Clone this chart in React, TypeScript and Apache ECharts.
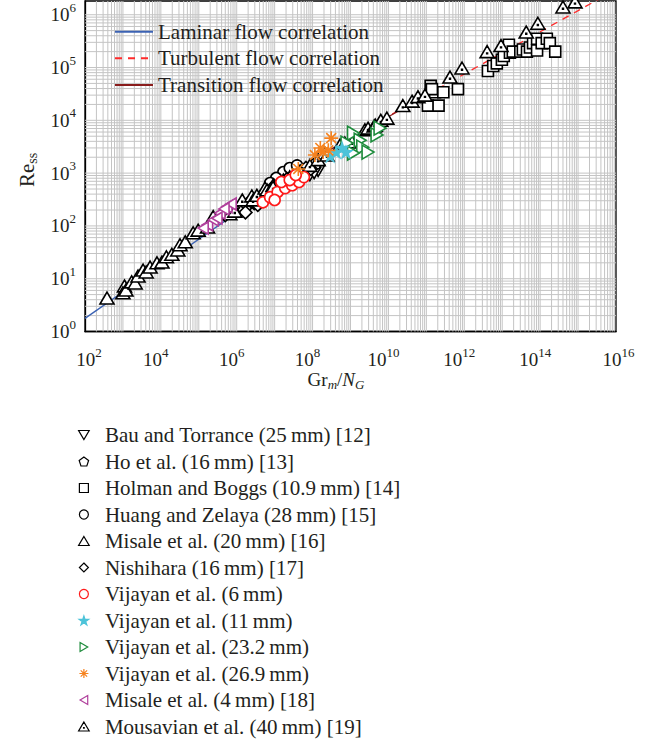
import React, { useEffect, useRef } from 'react';
import * as echarts from 'echarts';

const SERIF = "'Liberation Serif', serif";
const INK = '#231f20';

// Axis extents
const X_RANGE = [1e2, 1e16];
const Y_RANGE = [1, 1.82e6];

// Correlation lines (end points, Gr_m/N_G vs Re_ss)
const laminarFlow = [[1e2, 1.77], [1e8, 1.77e3]];
const turbulentFlow = [[2e8, 2.5e3], [1e16, 3.0e6]];
const transitionFlow = [[1e8, 1.8e3], [2e10, 1.55e4]];

// Experimental data [Gr_m/N_G, Re_ss]
const bauTorrance = [
  [1.4e7, 4.8e2], [3.5e7, 6.5e2], [8.5e7, 9.2e2], [1.4e8, 1.1e3], [5.9e6, 3.4e2], [2.2e6, 2.5e2],
  [9.0e6, 4.0e2], [2.2e7, 5.6e2], [5.5e7, 8.0e2], [1.1e8, 1.0e3], [4.0e6, 2.9e2],
];
const hoEtAl = [
  [6.3e7, 1.15e3], [9.6e7, 1.4e3], [3.0e7, 1.05e3], [1.9e7, 8.8e2], [1.2e8, 1.55e3],
];
const holmanBoggs = [
  [4.2e12, 8.6e4], [5.8e12, 1.07e5], [7.2e12, 1.2e5], [9.8e12, 1.4e5], [1.1e13, 1.65e5],
  [1.6e13, 1.9e5], [1.5e13, 2.7e5], [1.9e13, 2.0e5], [3.0e13, 2.0e5], [3.5e13, 2.2e5],
  [4.5e13, 2.0e5], [5.4e13, 2.4e5], [6.5e13, 2.9e5], [8.3e13, 3.5e5], [8.3e13, 2.1e5],
  [1.1e14, 2.9e5], [1.5e14, 3.5e5], [1.8e14, 2.9e5], [2.5e14, 2.0e5],
  [1.3e11, 4.5e4], [1.7e11, 3.4e4], [2.8e11, 3.4e4], [6.8e11, 3.9e4], [1.1e11, 1.9e4],
  [2.1e11, 1.9e4], [1.4e11, 3.9e4],
];
const huangZelaya = [
  [1.7e7, 1.05e3], [2.5e7, 1.25e3], [3.9e7, 1.4e3], [1.1e7, 8.1e2], [7.6e6, 6.5e2],
];
const misale20 = [
  [3.8e2, 4.3], [1.1e3, 7.3], [1.0e3, 5.4], [1.2e3, 6.1], [1.7e3, 8.7], [2.1e3, 8.3],
  [2.5e3, 11.2], [3.4e3, 14.6], [4.1e3, 13.4], [5.2e3, 16.6], [7.9e3, 20], [1.07e4, 20.7],
  [1.4e4, 26], [1.95e4, 29], [2.8e4, 35], [3.2e4, 44], [4.4e4, 50], [7.1e4, 74],
  [9.6e4, 83], [1.7e5, 95],
];
const nishihara = [
  [1.2e6, 2.0e2], [1.9e6, 2.4e2], [2.9e6, 2.7e2], [4.1e6, 3.5e2], [6.6e6, 4.2e2],
  [1.1e7, 5.2e2], [1.7e7, 5.5e2], [4.7e7, 1.05e3], [6.7e7, 1.25e3], [3.5e7, 8.8e2],
  [2.1e7, 7.7e2], [1.7e6, 1.8e2], [3.6e6, 2.5e2], [5.0e5, 1.6e2], [8.0e5, 2.2e2],
  [2.3e6, 3.0e2], [5.0e6, 3.0e2], [8.0e6, 5.0e2], [1.3e7, 6.2e2], [2.8e7, 7.0e2],
  [5.5e7, 9.5e2], [9.0e7, 1.2e3],
];
const vijayan6 = [
  [4.9e6, 2.8e2], [7.6e6, 3.5e2], [1.2e7, 4.4e2], [1.9e7, 5.2e2], [2.9e7, 5.9e2],
  [4.4e7, 6.8e2], [5.9e7, 8.4e2], [1.5e7, 6.8e2], [2.5e7, 7.4e2], [3.6e7, 9.2e2], [1.0e7, 3.1e2],
];
const vijayan11 = [
  [4.2e8, 2.5e3], [6.0e8, 3.0e3], [7.6e8, 2.5e3], [2.9e8, 2.1e3],
];
const vijayan23 = [
  [1.2e9, 5.7e3], [1.8e9, 4.2e3], [2.1e9, 3.1e3], [1.2e9, 2.4e3], [2.9e9, 2.5e3],
  [5.0e9, 5.3e3], [6.0e9, 7.1e3], [8.1e8, 3.7e3],
];
const vijayan27 = [
  [4.2e7, 1.2e3], [1.15e8, 2.2e3], [1.9e8, 2.5e3], [2.6e8, 2.7e3], [3.1e8, 4.6e3], [1.6e8, 3.0e3],
];
const misale4 = [
  [1.7e5, 1.05e2], [2.4e5, 1.3e2], [3.6e5, 1.75e2], [5.5e5, 2.3e2], [7.1e5, 2.6e2],
  [3.0e5, 1.4e2], [1.3e5, 91], [4.6e5, 2.1e2],
];
const mousavian = [
  [2.4e5, 1.5e2], [4.4e5, 1.8e2], [6.6e5, 1.7e2], [7.9e5, 2.3e2], [8.9e5, 1.9e2],
  [1.4e6, 3.1e2], [2.5e6, 3.7e2], [2.7e6, 3.1e2], [3.4e6, 3.8e2], [5.6e6, 5.2e2],
  [6.3e6, 4.8e2], [9.1e6, 5.9e2], [9.1e6, 5.4e2], [1.7e7, 7.4e2], [2.5e7, 8.5e2],
  [4.7e7, 1.1e3], [8.5e7, 1.4e3], [1.4e8, 1.8e3], [2.1e8, 2.4e3], [2.4e8, 2.2e3],
  [5.3e8, 3.4e3], [7.1e8, 3.7e3], [1.1e9, 3.9e3], [2.4e9, 6.6e3], [2.9e9, 7.1e3],
  [4.2e9, 7.8e3], [4.5e9, 8.1e3], [6.3e9, 1.0e4], [9.1e9, 1.1e4], [2.4e10, 1.9e4],
  [4.2e10, 2.3e4], [6.0e10, 2.8e4], [9.2e10, 3.0e4], [4.2e11, 6.6e4], [8.7e11, 9.8e4],
  [4.0e12, 2.0e5], [9.3e12, 2.6e5], [4.3e13, 4.7e5], [8.7e13, 6.9e5], [4.0e14, 1.4e6],
  [8.3e14, 1.75e6],
];

// Marker outlines
const TRI_UP = 'path://M10,0L20,17L0,17Z';
const TRI_UP_DOT = 'path://M10,0L20,17L0,17Z M9.4,10.4L10.6,10.4L10.6,11.6L9.4,11.6Z';
const TRI_DOWN = 'path://M0,0L20,0L10,17Z';
const TRI_RIGHT = 'path://M0,0L17,10L0,20Z';
const TRI_LEFT = 'path://M17,0L0,10L17,20Z';
const SQUARE = 'path://M0,0L10,0L10,10L0,10Z';
const DIAMOND = 'path://M10,0L20,10L10,20L0,10Z';
const PENTAGON = 'path://M10,0L19.5,6.9L15.9,18.1L4.1,18.1L0.5,6.9Z';
const STAR = 'path://M10,0L12.4,7.2L20,7.2L13.8,11.7L16.2,19L10,14.5L3.8,19L6.2,11.7L0,7.2L7.6,7.2Z';
const ASTERISK = 'path://M10,0L10,20M0,10L20,10M2.9,2.9L17.1,17.1M17.1,2.9L2.9,17.1';

function scatter(name: string, data: number[][], symbol: string, size: number | number[], fill: string, stroke: string) {
  return {
    type: 'scatter',
    name,
    data,
    symbol,
    symbolSize: size,
    symbolKeepAspect: true,
    z: 3,
    silent: true,
    itemStyle: { color: fill, borderColor: stroke, borderWidth: 1.6, opacity: 1 },
  };
}

function line(name: string, data: number[][], color: string, type: any) {
  return {
    type: 'line',
    name,
    data,
    z: 2,
    silent: true,
    symbol: 'none',
    showSymbol: false,
    color,
    lineStyle: { color, width: 1.3, type },
  };
}

const tickRich = {
  b: { fontSize: 19, lineHeight: 28, fontFamily: SERIF, color: INK },
  s: { fontSize: 13, lineHeight: 10, verticalAlign: 'top', fontFamily: SERIF, color: INK },
  pl: { width: 8 },
  pm: { width: 5 },
  pr: { width: 10 },
};

function decade(v: number): number | null {
  const l = Math.log10(v);
  const e = Math.round(l);
  return Math.abs(l - e) < 1e-6 ? e : null;
}

function xLabel(v: number) {
  const e = decade(v);
  if (e === null || e % 2 !== 0) return '';
  const pre = e === 2 ? '{pl| }' : e === 16 ? '{pm| }' : '';
  const post = e === 2 || e === 16 ? '' : '{pr| }';
  return `${pre}{b|10}{s|${e}}${post}`;
}

function yLabel(v: number) {
  const e = decade(v);
  if (e === null) return '';
  return `{b|10}{s|${e}}`;
}

// Log-decade grid lines (1..9 in every decade)
function renderGrid(_params: any, api: any) {
  const children: any[] = [];
  const style = { stroke: '#c4c4c4', lineWidth: 1 };
  for (let e = 2; e < 16; e++) {
    for (let m = 1; m <= 9; m++) {
      const v = m * Math.pow(10, e);
      if (v <= X_RANGE[0]) continue;
      const a = api.coord([v, Y_RANGE[0]]);
      const b = api.coord([v, Y_RANGE[1]]);
      children.push({ type: 'line', shape: { x1: a[0], y1: a[1], x2: b[0], y2: b[1] }, style });
    }
  }
  for (let e = 0; e < 7; e++) {
    for (let m = 1; m <= 9; m++) {
      const v = m * Math.pow(10, e);
      if (v <= Y_RANGE[0] || v >= Y_RANGE[1]) continue;
      const a = api.coord([X_RANGE[0], v]);
      const b = api.coord([X_RANGE[1], v]);
      children.push({ type: 'line', shape: { x1: a[0], y1: a[1], x2: b[0], y2: b[1] }, style });
    }
  }
  return { type: 'group', children };
}

const lineNames = ['Laminar flow correlation', 'Turbulent flow correlation', 'Transition flow correlation'];
const pointNames = [
  'Bau and Torrance (25\u2009mm) [12]',
  'Ho et al. (16\u2009mm) [13]',
  'Holman and Boggs (10.9\u2009mm) [14]',
  'Huang and Zelaya (28\u2009mm) [15]',
  'Misale et al. (20\u2009mm) [16]',
  'Nishihara (16\u2009mm) [17]',
  'Vijayan et al. (6\u2009mm)',
  'Vijayan et al. (11\u2009mm)',
  'Vijayan et al. (23.2\u2009mm)',
  'Vijayan et al. (26.9\u2009mm)',
  'Misale et al. (4\u2009mm) [18]',
  'Mousavian et al. (40\u2009mm) [19]',
];

export default function App() {
  const ref = useRef<HTMLDivElement>(null);

  useEffect(() => {
    if (!ref.current) return;
    const chart = echarts.init(ref.current, undefined, { renderer: 'svg' });
    const legendText = { fontSize: 21, lineHeight: 21, fontFamily: SERIF, color: INK };

    chart.setOption({
      animation: false,
      backgroundColor: '#fff',
      textStyle: { fontFamily: SERIF, color: INK },
      grid: {
        left: 85, right: 40, top: 1, bottom: 410.5,
        show: true, borderColor: '#000', borderWidth: 1.3,
        containLabel: false, outerBoundsMode: 'none',
      },
      xAxis: {
        type: 'log', logBase: 10, min: X_RANGE[0], max: X_RANGE[1], interval: 2,
        axisLine: { show: true, onZero: false, lineStyle: { color: '#000', width: 1.3 } },
        axisTick: { show: false }, splitLine: { show: false }, minorTick: { show: false },
        axisLabel: { margin: 14, formatter: xLabel, rich: tickRich, showMinLabel: true, showMaxLabel: true },
      },
      yAxis: {
        type: 'log', logBase: 10, min: Y_RANGE[0], max: Y_RANGE[1], interval: 1,
        axisLine: { show: true, onZero: false, lineStyle: { color: '#000', width: 1.3 } },
        axisTick: { show: false }, splitLine: { show: false }, minorTick: { show: false },
        axisLabel: { margin: 9, formatter: yLabel, rich: tickRich, showMinLabel: true, showMaxLabel: true },
      },
      legend: [
        {
          data: lineNames, orient: 'vertical', left: 114, top: 21.2, padding: 0,
          itemWidth: 38, itemHeight: 14, itemGap: 5.6, selectedMode: false,
          itemStyle: { opacity: 0 },
          textStyle: legendText,
        },
        {
          data: pointNames, orient: 'vertical', left: 78, top: 424.5, padding: 0,
          itemWidth: 32, itemHeight: 9, itemGap: 5.5, selectedMode: false,
          itemStyle: { borderWidth: 1.2 },
          textStyle: legendText,
        },
      ],
      graphic: [
        {
          type: 'text', x: 336, y: 379, silent: true,
          style: {
            text: '{n|Gr}{sb|m}{n|/}{ni|N}{sb|G}',
            align: 'center', verticalAlign: 'middle', fill: INK,
            rich: {
              n: { fontSize: 19, lineHeight: 24, fontFamily: SERIF, fill: INK },
              ni: { fontSize: 19, lineHeight: 24, fontFamily: SERIF, fontStyle: 'italic', fill: INK },
              sb: { fontSize: 13, lineHeight: 15, verticalAlign: 'bottom', fontFamily: SERIF, fontStyle: 'italic', fill: INK },
            },
          },
        },
        {
          type: 'text', x: 27, y: 170, rotation: Math.PI / 2, silent: true,
          style: {
            text: '{n|Re}{sb|ss}',
            align: 'center', verticalAlign: 'middle', fill: INK,
            rich: {
              n: { fontSize: 21, lineHeight: 24, fontFamily: SERIF, fill: INK },
              sb: { fontSize: 14, lineHeight: 15, verticalAlign: 'bottom', fontFamily: SERIF, fill: INK },
            },
          },
        },
      ],
      series: [
        {
          type: 'custom', silent: true, z: 1, data: [[X_RANGE[0], Y_RANGE[0]]],
          renderItem: renderGrid,
        },
        line(lineNames[0], laminarFlow, '#3b62b3', 'solid'),
        line(lineNames[1], turbulentFlow, '#ff2a2a', [7, 6]),
        line(lineNames[2], transitionFlow, '#8a1c1c', 'solid'),
        scatter(pointNames[0], bauTorrance, TRI_DOWN, 13, '#fff', '#000'),
        scatter(pointNames[1], hoEtAl, PENTAGON, 12, '#fff', '#000'),
        scatter(pointNames[2], holmanBoggs, SQUARE, 11, '#fff', '#000'),
        scatter(pointNames[3], huangZelaya, 'circle', 11, '#fff', '#000'),
        scatter(pointNames[4], misale20, TRI_UP, 14, '#fff', '#000'),
        scatter(pointNames[5], nishihara, DIAMOND, 13, '#fff', '#000'),
        scatter(pointNames[11], mousavian, TRI_UP_DOT, 14, '#fff', '#000'),
        scatter(pointNames[6], vijayan6, 'circle', 11, '#fff', '#ff1a1a'),
        scatter(pointNames[10], misale4, TRI_LEFT, 12, '#fff', '#b0409c'),
        scatter(pointNames[8], vijayan23, TRI_RIGHT, 14, '#fff', '#1e8c3c'),
        scatter(pointNames[7], vijayan11, STAR, 11, '#4cc3d9', '#4cc3d9'),
        scatter(pointNames[9], vijayan27, ASTERISK, 14, 'rgba(0,0,0,0)', '#f5821f'),
      ],
    });

    return () => chart.dispose();
  }, []);

  return (
    <div
      ref={ref}
      style={{ position: 'absolute', left: 0, top: 0, width: 656, height: 742 }}
    />
  );
}
